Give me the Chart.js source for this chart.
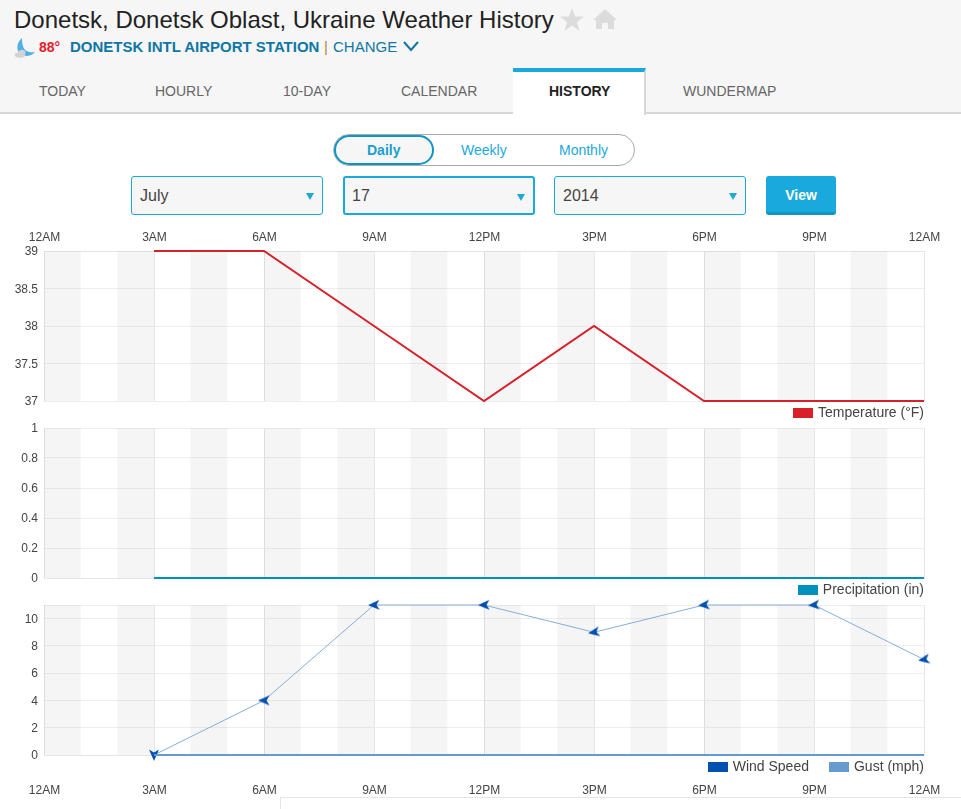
<!DOCTYPE html>
<html>
<head>
<meta charset="utf-8">
<title>Donetsk Weather History</title>
<script src="https://cdn.jsdelivr.net/npm/chart.js@4"></script>
<style>
    html, body { margin: 0; padding: 0; background: #fff; }
    body { position: relative; width: 961px; height: 809px; overflow: hidden; font-family: "Liberation Sans", Arial, sans-serif; color: #333; }
    .abs { position: absolute; white-space: nowrap; }
    #header { left: 0; top: 0; width: 961px; height: 112px; background: #f6f6f6; border-bottom: 2px solid #d8d8d8; }
    h1 { margin: 0; left: 14px; top: 5px; font-size: 24px; line-height: 30px; font-weight: normal; color: #222; }
    .tab { top: 83px; font-size: 14px; line-height: 16px; color: #666; }
    #activeTab { left: 513px; top: 68px; width: 131px; height: 43px; background: #fff; border-top: 4px solid #1aa9dc; border-right: 2px solid #d8d8d8; }
    #toggle { left: 333px; top: 134px; width: 300px; height: 30px; border: 1px solid #aaa; border-radius: 16px; }
    #daily { left: 334px; top: 135px; width: 96px; height: 26px; border: 2px solid #0e95c4; border-radius: 15px; background: #f6f6f6; }
    .toggleText { top: 142px; font-size: 14px; line-height: 16px; color: #1aa9dc; }
    .select { top: 176px; height: 37px; background: #f6f6f6; border: 1px solid #1aa9dc; border-radius: 3px; box-sizing: content-box; font-size: 16px; line-height: 37px; color: #444; text-indent: 8px; }
    .select::after { content: ""; position: absolute; right: 8px; top: 16px; border-left: 4.5px solid transparent; border-right: 4.5px solid transparent; border-top: 7px solid #1aa9dc; }
    #viewBtn { left: 766px; top: 176px; width: 70px; height: 36px; background: #1aa9dc; border-bottom: 3px solid #0e95c4; border-radius: 3px; color: #fff; font-size: 14px; font-weight: bold; line-height: 38px; text-align: center; }
    canvas { position: absolute; left: 0; }
    .legend { right: 37px; font-size: 14px; line-height: 16px; color: #444; }
    .legend span.box { display: inline-block; width: 20px; height: 10px; margin-right: 5px; vertical-align: -0.5px; }
    .legend span.item + span.item { margin-left: 20px; }
    #footerLine { left: 280px; top: 797px; width: 681px; height: 12px; border-left: 1px solid #e6e6e6; border-top: 1px solid #e6e6e6; }
</style>
</head>
<body>
<div id="header" class="abs"></div>
<h1 class="abs">Donetsk, Donetsk Oblast, Ukraine Weather History</h1>

<svg class="abs" style="left:559px;top:6px" width="60" height="28" viewBox="0 0 60 28">
    <polygon fill="#dcdcdc" points="13,2 16,10.5 25,10.5 18,16 20.5,25 13,19.5 5.5,25 8,16 1,10.5 10,10.5"/>
    <path fill="#dcdcdc" d="M46 3 L58 14 L55 14 L55 23 L49 23 L49 17 L43 17 L43 23 L37 23 L37 14 L34 14 Z"/>
</svg>

<svg class="abs" style="left:13px;top:37px" width="24" height="22" viewBox="0 0 24 22">
    <path fill="#4fb0e4" d="M9 1 C3 6 3 14 8 18 C13 20 19 19 22 15 C16 16 11 14 10 9 C9 6 9 3 9 1 Z"/>
    <ellipse cx="7" cy="18" rx="5.5" ry="2.8" fill="#d2d2d2"/>
    <ellipse cx="9" cy="15.5" rx="3.5" ry="2.8" fill="#d2d2d2"/>
</svg>
<div class="abs" style="left:39px;top:38px;font-size:14px;line-height:18px;font-weight:bold;color:#e2202c">88°</div>
<div class="abs" style="left:70px;top:38px;font-size:15px;line-height:18px;font-weight:bold;color:#0f76a5">DONETSK INTL AIRPORT STATION</div>
<div class="abs" style="left:324px;top:38px;font-size:15px;line-height:18px;color:#b08a3c">|</div>
<div class="abs" style="left:333px;top:38px;font-size:15px;line-height:18px;color:#0f76a5">CHANGE</div>
<svg class="abs" style="left:402px;top:40px" width="18" height="12" viewBox="0 0 18 12">
    <polyline points="2,2 9,10 16,2" fill="none" stroke="#0f76a5" stroke-width="2"/>
</svg>

<div class="abs tab" style="left:39px">TODAY</div>
<div class="abs tab" style="left:155px">HOURLY</div>
<div class="abs tab" style="left:283px">10-DAY</div>
<div class="abs tab" style="left:401px">CALENDAR</div>
<div id="activeTab" class="abs"></div>
<div class="abs tab" style="left:549px;color:#222;font-weight:bold">HISTORY</div>
<div class="abs tab" style="left:683px">WUNDERMAP</div>

<div id="toggle" class="abs"></div>
<div id="daily" class="abs"></div>
<div class="abs toggleText" style="left:367px;font-weight:bold;color:#1a9fd0">Daily</div>
<div class="abs toggleText" style="left:461px">Weekly</div>
<div class="abs toggleText" style="left:559px">Monthly</div>

<div class="abs select" style="left:131px;width:190px">July</div>
<div class="abs select" style="left:343px;width:188px;border-width:2px;height:35px;line-height:35px;text-indent:7px">17</div>
<div class="abs select" style="left:554px;width:190px">2014</div>
<div id="viewBtn" class="abs">View</div>

<canvas id="tempChart"></canvas>
<canvas id="precipChart"></canvas>
<canvas id="windChart"></canvas>
<div id="tempLegend" class="abs legend" style="top:404px"></div>
<div id="precipLegend" class="abs legend" style="top:581px"></div>
<div id="windLegend" class="abs legend" style="top:758px"></div>
<div id="footerLine" class="abs"></div>

<script>
// hours of the day the observations were taken at
const hours = [3, 6, 9, 12, 15, 18, 21, 24];
const timeLabels = ["12AM", "3AM", "6AM", "9AM", "12PM", "3PM", "6PM", "9PM", "12AM"];

const temperature = [39, 39, 38, 37, 38, 37, 37, 37];
const precipitation = [0, 0, 0, 0, 0, 0, 0, 0];
const windSpeed = [0, 4, 11, 11, 9, 11, 11, 7];
const gust = [0, 0, 0, 0, 0, 0, 0, 0];
// compass bearing each wind arrow points towards
const windBearing = [180, 270, 268, 268, 260, 265, 265, 260];

const tempTicks = [37, 37.5, 38, 38.5, 39];
const precipTicks = [0, 0.2, 0.4, 0.6, 0.8, 1];
const windTicks = [0, 2, 4, 6, 8, 10, 11];

const RED = "#d81f2a";
const TEAL = "#0090c0";
const DARK_BLUE = "#0050b0";
const LIGHT_BLUE = "#6699cc";
const WIND_LINE = "#85aedb";
const PLOT_LEFT = 44;
const PLOT_WIDTH = 880;
const PLOT_HEIGHT = 150;
const PAGE_WIDTH = 961;

// alternating hour stripes behind each plot
const hourBands = {
    id: "hourBands",
    beforeDatasetsDraw(chart) {
        const { ctx, chartArea, scales } = chart;
        ctx.save();
        ctx.fillStyle = "rgba(120,120,120,0.07)";
        for (let h = 0; h < 24; h += 2) {
            const x0 = scales.x.getPixelForValue(h);
            const x1 = scales.x.getPixelForValue(h + 1);
            ctx.fillRect(x0, chartArea.top, x1 - x0, chartArea.bottom - chartArea.top);
        }
        ctx.restore();
    }
};

function windArrow() {
    const c = document.createElement("canvas");
    c.width = 14;
    c.height = 14;
    const g = c.getContext("2d");
    g.fillStyle = DARK_BLUE;
    g.beginPath();
    g.moveTo(7, 1);
    g.lineTo(12, 12.5);
    g.lineTo(7, 9.5);
    g.lineTo(2, 12.5);
    g.closePath();
    g.fill();
    return c;
}

// the plot rectangle stays fixed, tick labels may hang over its edges
function noOverflow(axis) {
    axis.paddingLeft = axis.paddingRight = axis.paddingTop = axis.paddingBottom = 0;
}

function makeChart(id, top, opts) {
    const canvas = document.getElementById(id);
    canvas.width = PAGE_WIDTH;
    canvas.height = opts.padTop + opts.axisHeight + PLOT_HEIGHT + opts.padBottom;
    canvas.style.top = top + "px";
    return new Chart(canvas, {
        type: "line",
        data: { datasets: opts.datasets },
        plugins: [hourBands],
        options: {
            responsive: false,
            animation: false,
            layout: {
                autoPadding: false,
                padding: { left: 0, right: PAGE_WIDTH - PLOT_LEFT - PLOT_WIDTH, top: opts.padTop, bottom: opts.padBottom }
            },
            plugins: { legend: { display: false }, tooltip: { enabled: false } },
            scales: {
                x: {
                    type: "linear",
                    position: opts.axisPosition,
                    min: 0,
                    max: 24,
                    grid: { color: "#e6e6e6", drawTicks: false },
                    border: { color: "#e6e6e6" },
                    afterBuildTicks(axis) {
                        axis.ticks = timeLabels.map((_, i) => ({ value: i * 3 }));
                    },
                    afterFit(axis) {
                        axis.height = opts.axisHeight;
                        noOverflow(axis);
                    },
                    ticks: {
                        display: opts.axisHeight > 0,
                        padding: opts.axisPadding,
                        labelOffset: 0.5,
                        maxRotation: 0,
                        color: "#444",
                        font: { family: "'Liberation Sans'", size: 12 },
                        callback: (v) => timeLabels[v / 3]
                    }
                },
                y: {
                    min: opts.ticks[0],
                    max: opts.ticks[opts.ticks.length - 1],
                    grid: { color: "#eeeeee", drawTicks: false },
                    border: { color: "#e6e6e6" },
                    afterBuildTicks(axis) {
                        axis.ticks = opts.ticks.map((v) => ({ value: v }));
                    },
                    afterFit(axis) {
                        axis.width = PLOT_LEFT;
                        noOverflow(axis);
                    },
                    ticks: {
                        padding: 6,
                        labelOffset: 1,
                        color: "#444",
                        font: { family: "'Liberation Sans'", size: 12 },
                        callback: (v) => opts.labelFor ? opts.labelFor(v) : String(v)
                    }
                }
            }
        }
    });
}

function series(values) {
    return values.map((v, i) => ({ x: hours[i], y: v }));
}

function fillLegend(id, items) {
    const el = document.getElementById(id);
    items.forEach(([label, color]) => {
        const item = document.createElement("span");
        item.className = "item";
        const box = document.createElement("span");
        box.className = "box";
        box.style.background = color;
        item.appendChild(box);
        item.appendChild(document.createTextNode(label));
        el.appendChild(item);
    });
}

makeChart("tempChart", 225, {
    axisPosition: "top",
    axisHeight: 26,
    axisPadding: 6,
    padTop: 0,
    padBottom: 10,
    ticks: tempTicks,
    datasets: [{
        data: series(temperature),
        borderColor: RED,
        borderWidth: 2,
        pointRadius: 0,
        tension: 0,
        clip: false
    }]
});

makeChart("precipChart", 418, {
    axisPosition: "bottom",
    axisHeight: 0,
    axisPadding: 0,
    padTop: 10,
    padBottom: 10,
    ticks: precipTicks,
    datasets: [{
        data: series(precipitation),
        borderColor: TEAL,
        borderWidth: 2,
        pointRadius: 0,
        tension: 0,
        clip: false
    }]
});

const arrow = windArrow();
makeChart("windChart", 595, {
    axisPosition: "bottom",
    axisHeight: 44,
    axisPadding: 28,
    padTop: 10,
    padBottom: 0,
    ticks: windTicks,
    labelFor: (v) => v === 11 ? "" : String(v),
    datasets: [
        {
            data: series(gust),
            borderColor: LIGHT_BLUE,
            borderWidth: 2,
            pointRadius: 0,
            tension: 0,
            clip: false
        },
        {
            data: series(windSpeed),
            borderColor: WIND_LINE,
            borderWidth: 1,
            pointStyle: arrow,
            pointRotation: windBearing,
            pointRadius: 7,
            tension: 0,
            clip: false
        }
    ]
});

fillLegend("tempLegend", [["Temperature (°F)", RED]]);
fillLegend("precipLegend", [["Precipitation (in)", TEAL]]);
fillLegend("windLegend", [["Wind Speed", DARK_BLUE], ["Gust (mph)", LIGHT_BLUE]]);
</script>
</body>
</html>
